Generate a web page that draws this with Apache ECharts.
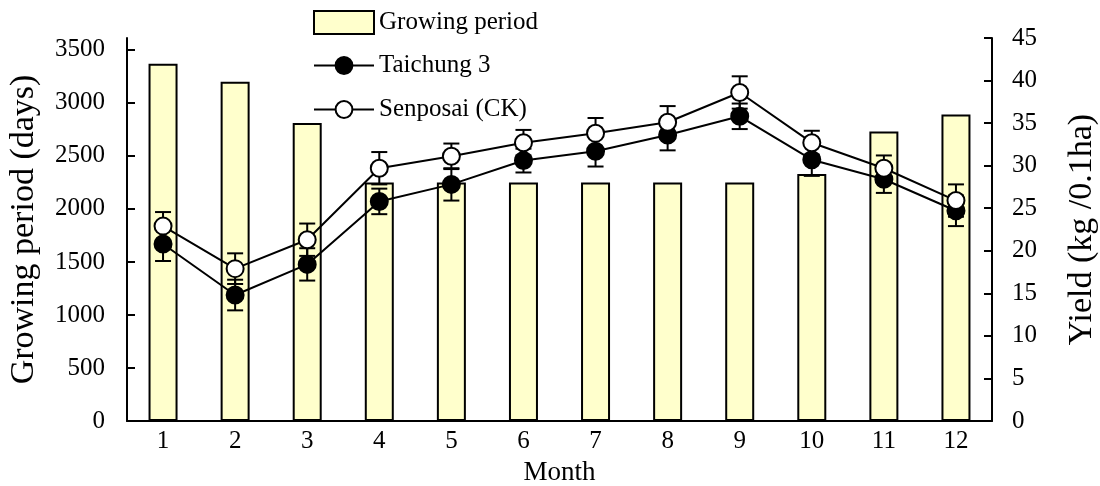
<!DOCTYPE html>
<html>
<head>
<meta charset="utf-8">
<script src="https://cdn.jsdelivr.net/npm/echarts@6/dist/echarts.min.js"></script>
<style>
html,body{margin:0;padding:0;background:#fff;}
#chart{width:1100px;height:486px;}
</style>
</head>
<body>
<div id="chart"></div>
<script>
const months = ['1','2','3','4','5','6','7','8','9','10','11','12'];
const growingPeriod = [3370, 3200, 2810, 2250, 2250, 2250, 2250, 2250, 2250, 2330, 2730, 2890];
const taichung3 = [20.8, 14.8, 18.4, 25.8, 27.8, 30.6, 31.7, 33.6, 35.8, 30.7, 28.4, 24.7];
const taichung3Err = [2.0, 1.8, 1.9, 1.5, 1.9, 1.4, 1.8, 1.8, 1.5, 1.9, 1.6, 1.8];
const senposai = [22.9, 17.9, 21.3, 29.7, 31.1, 32.7, 33.8, 35.1, 38.6, 32.7, 29.7, 25.9];
const senposaiErr = [1.65, 1.8, 1.9, 1.9, 1.5, 1.5, 1.8, 1.9, 1.9, 1.4, 1.5, 1.9];
const leftTicks = [0, 500, 1000, 1500, 2000, 2500, 3000, 3500];

const FONT = "'Liberation Serif', 'Times New Roman', serif";

function errData(vals, errs) {
  return vals.map((v, i) => [i, v - errs[i], v + errs[i]]);
}
function errRender(params, api) {
  const x = api.value(0);
  const lo = api.coord([x, api.value(1)]);
  const hi = api.coord([x, api.value(2)]);
  const hw = 8;
  const st = { stroke: '#000', lineWidth: 2 };
  return {
    type: 'group',
    children: [
      { type: 'line', shape: { x1: lo[0], y1: lo[1], x2: hi[0], y2: hi[1] }, style: st },
      { type: 'line', shape: { x1: lo[0] - hw, y1: lo[1], x2: lo[0] + hw, y2: lo[1] }, style: st },
      { type: 'line', shape: { x1: hi[0] - hw, y1: hi[1], x2: hi[0] + hw, y2: hi[1] }, style: st }
    ]
  };
}

const chart = echarts.init(document.getElementById('chart'), null, { renderer: 'canvas' });
chart.setOption({
  animation: false,
  backgroundColor: '#fff',
  textStyle: { fontFamily: FONT, color: '#000' },
  grid: { left: 127, right: 108, top: 38, bottom: 65, containLabel: false, outerBoundsMode: 'none' },
  legend: [
    {
      data: [{ name: 'Growing period', icon: 'rect' }],
      left: 313, top: 10, padding: 0,
      itemWidth: 60, itemHeight: 23,
      itemStyle: { color: '#FFFFCC', borderColor: '#000', borderWidth: 2 },
      textStyle: { fontFamily: FONT, fontSize: 25, color: '#000' },
      selectedMode: false
    },
    {
      data: ['Taichung 3', 'Senposai (CK)'],
      orient: 'vertical',
      left: 313, top: 53, padding: 0,
      itemWidth: 60, itemHeight: 21, itemGap: 19,
      lineStyle: { width: 2, color: '#000' },
      textStyle: { fontFamily: FONT, fontSize: 25, color: '#000' },
      selectedMode: false
    }
  ],
  xAxis: {
    type: 'category',
    data: months,
    boundaryGap: true,
    name: 'Month',
    nameLocation: 'middle',
    nameGap: 38,
    nameTextStyle: { fontFamily: FONT, fontSize: 27, color: '#000' },
    axisLine: { lineStyle: { color: '#000', width: 2 } },
    axisTick: { inside: true, length: 8, lineStyle: { color: '#000', width: 2 } },
    axisLabel: { fontFamily: FONT, fontSize: 25, color: '#000', margin: 8 },
    splitLine: { show: false }
  },
  yAxis: [
    {
      type: 'value',
      min: 0, max: 3612,
      position: 'left',
      name: 'Growing period (days)',
      nameLocation: 'middle',
      nameRotate: 90,
      nameGap: 86,
      nameTextStyle: { fontFamily: FONT, fontSize: 34, color: '#000' },
      axisLine: { show: true, lineStyle: { color: '#000', width: 2 } },
      axisTick: { show: true, inside: true, length: 8, lineStyle: { color: '#000', width: 2 }, customValues: leftTicks },
      axisLabel: { fontFamily: FONT, fontSize: 25, color: '#000', margin: 22, customValues: leftTicks, formatter: v => String(v) },
      splitLine: { show: false }
    },
    {
      type: 'value',
      min: 0, max: 45, interval: 5,
      position: 'right',
      name: 'Yield (kg /0.1ha)',
      nameLocation: 'middle',
      nameRotate: 90,
      nameGap: 73,
      nameTextStyle: { fontFamily: FONT, fontSize: 34, color: '#000' },
      axisLine: { show: true, lineStyle: { color: '#000', width: 2 } },
      axisTick: { show: true, inside: true, length: 8, lineStyle: { color: '#000', width: 2 } },
      axisLabel: { fontFamily: FONT, fontSize: 25, color: '#000', margin: 20, formatter: v => String(v) },
      splitLine: { show: false }
    }
  ],
  series: [
    {
      name: 'Growing period',
      type: 'bar',
      yAxisIndex: 0,
      data: growingPeriod,
      barWidth: 29,
      itemStyle: { color: '#FFFFCC', borderColor: '#000', borderWidth: 2 },
      z: 1
    },
    {
      name: 'Taichung 3 err',
      type: 'custom',
      yAxisIndex: 1,
      data: errData(taichung3, taichung3Err),
      renderItem: errRender,
      z: 2
    },
    {
      name: 'Senposai err',
      type: 'custom',
      yAxisIndex: 1,
      data: errData(senposai, senposaiErr),
      renderItem: errRender,
      z: 2
    },
    {
      name: 'Taichung 3',
      type: 'line',
      yAxisIndex: 1,
      data: taichung3,
      symbol: 'circle',
      symbolSize: 17,
      lineStyle: { color: '#000', width: 2 },
      itemStyle: { color: '#000', borderColor: '#000', borderWidth: 2 },
      z: 3
    },
    {
      name: 'Senposai (CK)',
      type: 'line',
      yAxisIndex: 1,
      data: senposai,
      symbol: 'circle',
      symbolSize: 17,
      lineStyle: { color: '#000', width: 2 },
      itemStyle: { color: '#fff', borderColor: '#000', borderWidth: 2 },
      z: 4
    }
  ]
});
</script>
</body>
</html>
